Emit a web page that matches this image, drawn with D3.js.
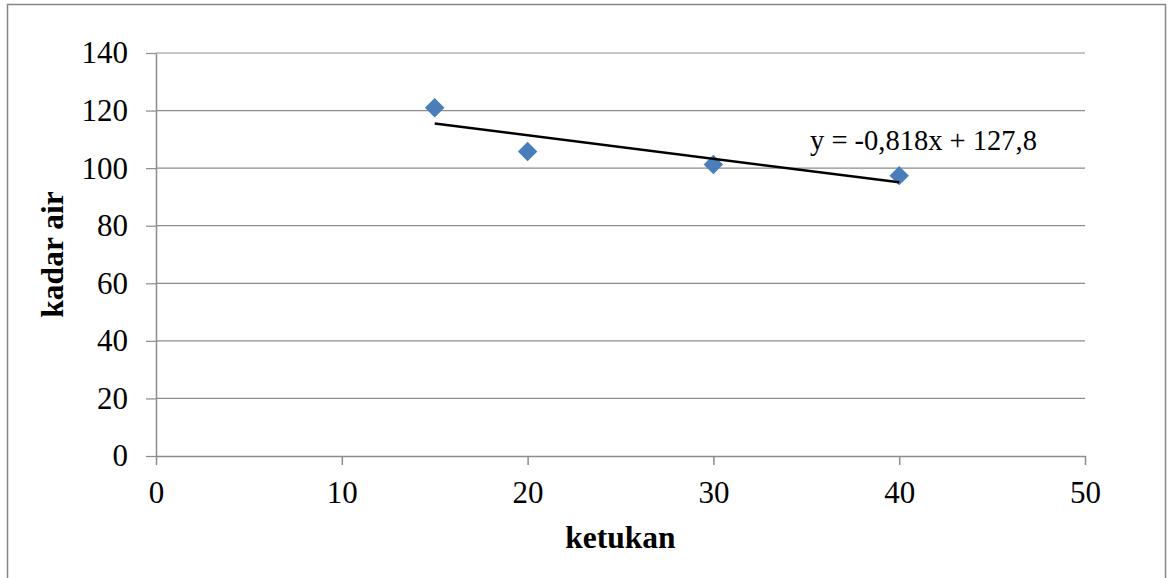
<!DOCTYPE html>
<html>
<head>
<meta charset="utf-8">
<script src="https://cdn.jsdelivr.net/npm/d3@7"></script>
<style>
  html, body { margin: 0; padding: 0; background: #fff; }
  svg text { font-family: "Liberation Serif", "Times New Roman", serif; }
</style>
</head>
<body>
<svg id="chart" width="1168" height="578"></svg>
<script>
// Kadar air vs jumlah ketukan
const ketukan = [15, 20, 30, 40];
const kadarAir = [121, 105.8, 101.3, 97.4];
const xTicks = [0, 10, 20, 30, 40, 50];
const yTicks = [0, 20, 40, 60, 80, 100, 120, 140];
const trendSlope = -0.818;
const trendIntercept = 127.8;
const trendLabel = "y = -0,818x + 127,8";

const svg = d3.select("#chart");
const W = 1168, H = 578;
const plot = { left: 156, right: 1085, top: 53, bottom: 456 };

// outer frame
svg.append("rect")
  .attr("x", 7.5).attr("y", 4.5)
  .attr("width", W - 10).attr("height", H)
  .attr("fill", "#fff").attr("stroke", "#868686").attr("stroke-width", 1.5);

const x = d3.scaleLinear().domain([0, 50]).range([plot.left, plot.right]);
const y = d3.scaleLinear().domain([0, 140]).range([plot.bottom, plot.top]);

const grid = "#8c8c8c";

// horizontal gridlines
svg.append("g").selectAll("line").data(yTicks.filter(d => d > 0)).join("line")
  .attr("x1", plot.left).attr("x2", plot.right)
  .attr("y1", d => y(d)).attr("y2", d => y(d))
  .attr("stroke", grid).attr("stroke-width", 1.2);

// y axis
const yAxis = svg.append("g").attr("transform", `translate(${plot.left},0)`)
  .call(d3.axisLeft(y).tickValues(yTicks).tickSize(10).tickPadding(18).tickSizeOuter(0));
yAxis.select(".domain").attr("stroke", grid).attr("stroke-width", 1.5);
yAxis.selectAll(".tick line").attr("stroke", grid).attr("stroke-width", 1.2);
yAxis.selectAll(".tick text").attr("font-size", 31).attr("fill", "#000");

// x axis
const xAxis = svg.append("g").attr("transform", `translate(0,${plot.bottom})`)
  .call(d3.axisBottom(x).tickValues(xTicks).tickSize(9).tickPadding(16).tickSizeOuter(0));
xAxis.select(".domain").attr("stroke", grid).attr("stroke-width", 1.5);
xAxis.selectAll(".tick line").attr("stroke", grid).attr("stroke-width", 1.5);
xAxis.selectAll(".tick text").attr("font-size", 31).attr("fill", "#000");

// data markers (diamonds)
const diamond = d3.symbol().type(d3.symbolSquare).size(190);
svg.append("g").selectAll("path").data(ketukan.map((k, i) => [k, kadarAir[i]])).join("path")
  .attr("d", diamond)
  .attr("transform", d => `translate(${x(d[0])},${y(d[1])}) rotate(45)`)
  .attr("fill", "#4a7ebb");

// linear trendline over the data range
const xExt = d3.extent(ketukan);
svg.append("line")
  .attr("x1", x(xExt[0])).attr("y1", y(trendSlope * xExt[0] + trendIntercept))
  .attr("x2", x(xExt[1])).attr("y2", y(trendSlope * xExt[1] + trendIntercept))
  .attr("stroke", "#000").attr("stroke-width", 2.5);

// trendline equation
svg.append("text")
  .attr("x", 810).attr("y", 150)
  .attr("font-size", 28.5).attr("fill", "#000")
  .text(trendLabel);

// axis titles
svg.append("text")
  .attr("x", x(25)).attr("y", 548)
  .attr("text-anchor", "middle").attr("font-size", 31.5).attr("font-weight", "bold")
  .text("ketukan");

svg.append("text")
  .attr("transform", `translate(63,${(plot.top + plot.bottom) / 2}) rotate(-90)`)
  .attr("text-anchor", "middle").attr("font-size", 31.5).attr("font-weight", "bold")
  .text("kadar air");
</script>
</body>
</html>
